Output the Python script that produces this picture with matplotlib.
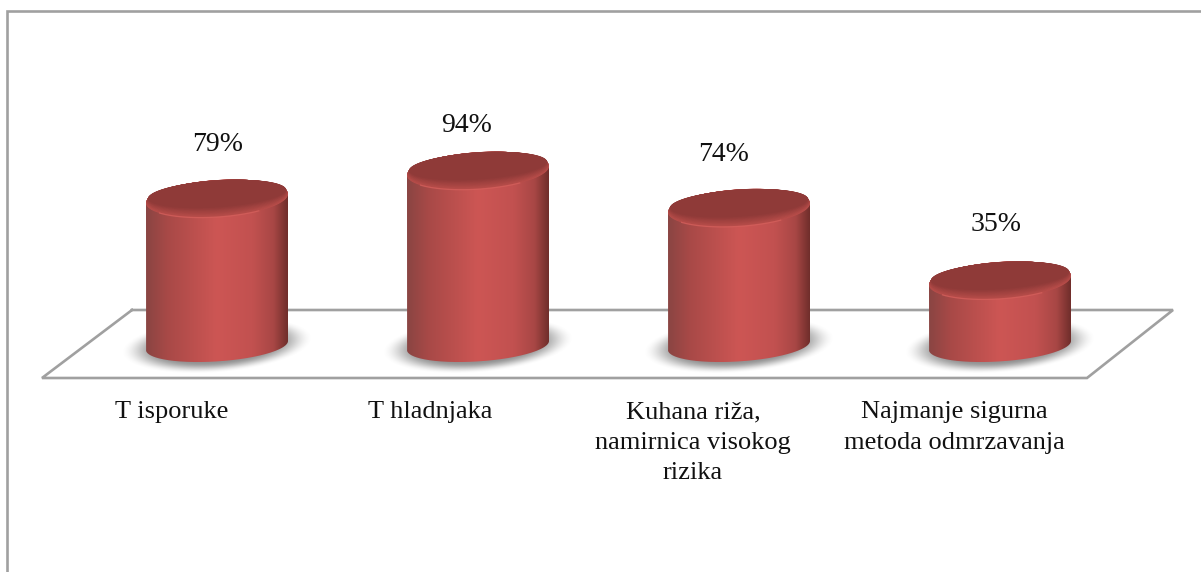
#!/usr/bin/env python3
import matplotlib
matplotlib.use("Agg")
import matplotlib.pyplot as plt
import numpy as np
from matplotlib.colors import LinearSegmentedColormap, to_rgb
from matplotlib.patches import PathPatch
from matplotlib.path import Path

categories = [
    "T isporuke",
    "T hladnjaka",
    "Kuhana riža,\nnamirnica visokog\nrizika",
    "Najmanje sigurna\nmetoda odmrzavanja",
]
values = [79, 94, 74, 35]

W, H = 1201, 572
PX_PER_CAT = 261.0
PX_PER_PCT = 1.86
X0_PX = 217.0
Y0_PX = 345.5

HALF_W = 71 / PX_PER_CAT
ELL_B = 18.5 / PX_PER_PCT
ELL_K = 4.5 / PX_PER_PCT
BOTTOM_SCALE = 0.86

# label offsets from the bars, in pixels
value_dx = [1, -11, -15, -4]
value_dy = [54, 45, 53, 56]
label_dx = [-45, -48, -46, -46]
LABEL_TOP_PX = 401

GREY = "#a0a0a0"
LIP = to_rgb("#b84d4a")
CAP = to_rgb("#8f3a38")
body_cmap = LinearSegmentedColormap.from_list(
    "body",
    [(0.0, "#8a4543"), (0.15, "#a84947"), (0.5, "#cd5654"), (0.75, "#c25150"), (0.9, "#a84745"), (1.0, "#702e2b")],
)


def ellipse(cx, cy, scale=1.0, b_scale=1.0, start=0.0, stop=2 * np.pi, n=120):
    t = np.linspace(start, stop, n)
    x = cx + scale * HALF_W * np.cos(t)
    y = cy + scale * (ELL_K * np.cos(t) + b_scale * ELL_B * np.sin(t))
    return x, y


def fill_gradient(ax, verts, extent, zorder):
    clip = PathPatch(Path(np.column_stack(verts)), transform=ax.transData, fc="none", ec="none")
    ax.add_patch(clip)
    grad = np.linspace(0, 1, 256).reshape(1, -1)
    im = ax.imshow(grad, cmap=body_cmap, extent=extent, aspect="auto", zorder=zorder, interpolation="bilinear")
    im.set_clip_path(clip)


def draw_shadow(ax, cx):
    # soft blurred ellipse under the cylinder
    xs = np.linspace(-1, 1, 200)
    ys = np.linspace(-1, 1, 100)
    gx, gy = np.meshgrid(xs, ys)
    r = np.sqrt(gx**2 + (gy - 0.25 * gx) ** 2)
    a = np.clip((1 - r) / 0.4, 0, 1)
    a = a * a * (3 - 2 * a) * 0.85
    rgba = np.zeros((100, 200, 4))
    rgba[..., :3] = 0.5
    rgba[..., 3] = a
    hw = 96 / PX_PER_CAT
    hh = 28 / PX_PER_PCT
    ax.imshow(rgba, extent=(cx - hw, cx + hw, -hh, hh), origin="lower", aspect="auto", zorder=2, interpolation="bilinear")


def draw_cylinder(ax, cx, val):
    # back half of the top edge, then down the side and round the bottom
    x_top, y_top = ellipse(cx, val, start=0, stop=np.pi)
    x_bot, y_bot = ellipse(cx, 0, b_scale=BOTTOM_SCALE, start=np.pi, stop=2 * np.pi)
    vx = np.concatenate([x_top, x_bot])
    vy = np.concatenate([y_top, y_bot])
    extent = (cx - HALF_W, cx + HALF_W, -30, 130)
    fill_gradient(ax, (vx, vy), extent, 3)

    # top cap, the bevel shows on the front edge only
    for f in np.linspace(0, 1, 12):
        col = tuple((1 - f) * p + f * q for p, q in zip(LIP, CAP))
        b_scale = 1 - 0.25 * f
        ex, ey = ellipse(cx, val + 0.25 * f * ELL_B, scale=1 - 0.03 * f, b_scale=b_scale)
        ax.fill(ex, ey, color=col, lw=0, zorder=4)
    hx, hy = ellipse(cx, val, start=1.2 * np.pi, stop=1.7 * np.pi)
    ax.plot(hx, hy, color="#d8625e", lw=0.9, alpha=0.7, zorder=5)


def main():
    plt.rcParams["font.family"] = ["Liberation Serif", "DejaVu Serif"]
    fig = plt.figure(figsize=(W / 100, H / 100), dpi=100)
    ax = fig.add_axes([0, 0, 1, 1])
    ax.axis("off")

    # pixel helper for the frame and floor
    frac = lambda pts: [(x / W, 1 - y / H) for x, y in pts]

    frame = frac([(7, H), (7, 11), (W, 11)])
    ax.plot(*zip(*frame), transform=ax.transAxes, color=GREY, lw=1.9, zorder=1, solid_joinstyle="miter")

    floor = frac([(132, 310), (1173, 310), (1087, 378), (42, 378), (132, 310)])
    ax.plot(*zip(*floor), transform=ax.transAxes, color=GREY, lw=1.9, zorder=1, solid_joinstyle="miter")

    for i, (name, val) in enumerate(zip(categories, values)):
        draw_shadow(ax, i)
        draw_cylinder(ax, i, val)

        ax.annotate(
            f"{val}%", (i, val), xytext=(value_dx[i], value_dy[i]), textcoords="offset pixels",
            ha="center", va="center", fontsize=20, color="#111111", zorder=6,
        )
        ax.text(
            (X0_PX + i * PX_PER_CAT + label_dx[i]) / W, 1 - LABEL_TOP_PX / H, name,
            transform=ax.transAxes, ha="center", va="top", fontsize=19, linespacing=1.5, color="#111111",
        )

    # imshow resets limits
    ax.set_xlim(-X0_PX / PX_PER_CAT, (W - X0_PX) / PX_PER_CAT)
    ax.set_ylim((Y0_PX - H) / PX_PER_PCT, Y0_PX / PX_PER_PCT)

    fig.savefig("out.png", dpi=100, facecolor="white")


if __name__ == "__main__":
    main()
